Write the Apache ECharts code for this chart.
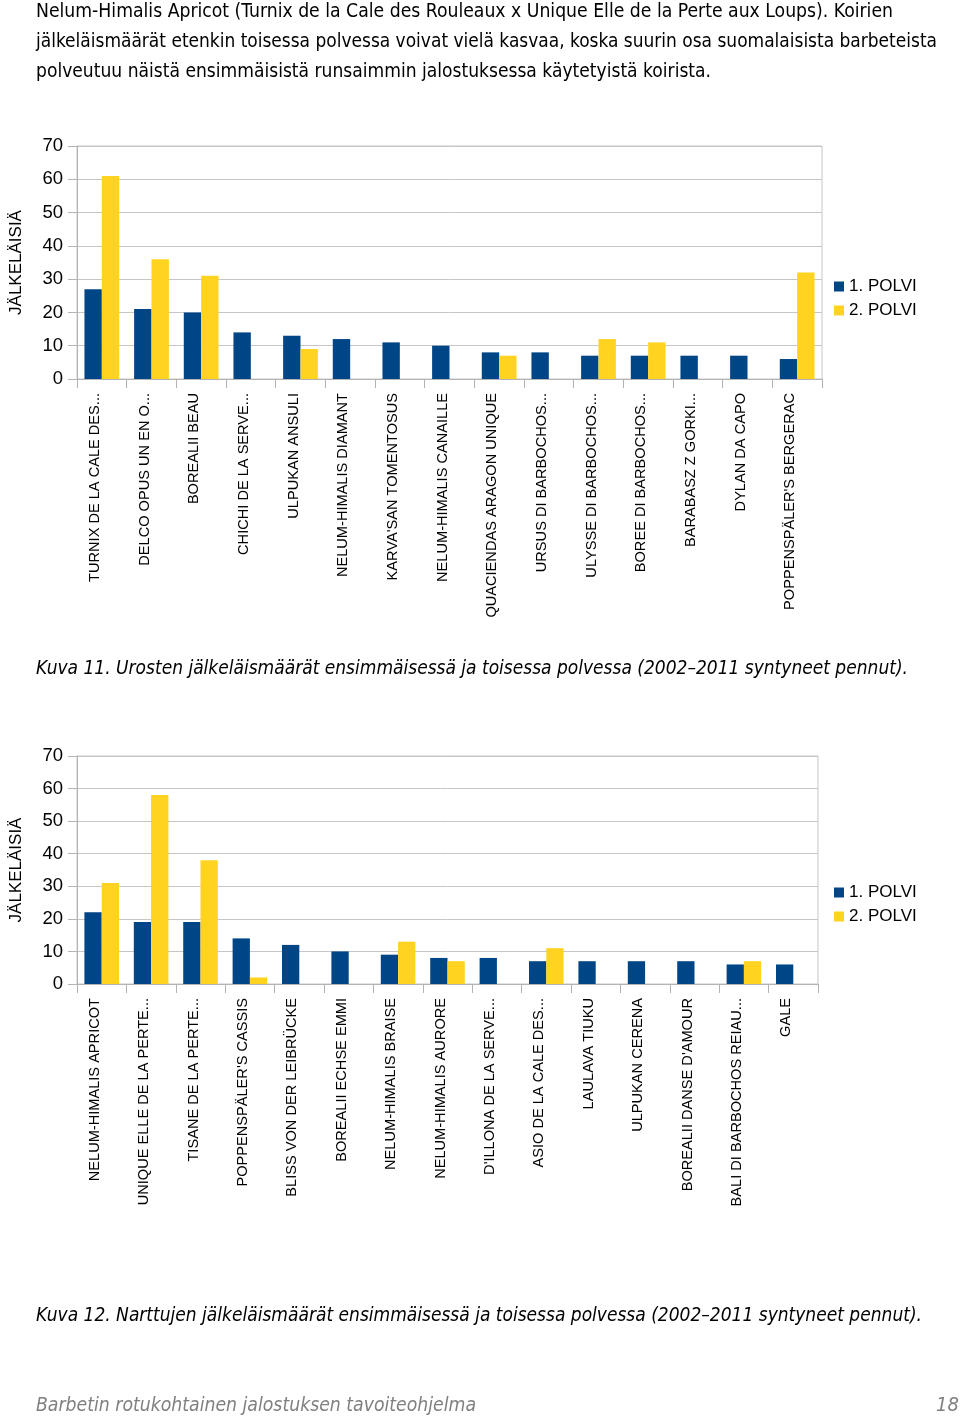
<!DOCTYPE html>
<html>
<head>
<meta charset="utf-8">
<script src="https://cdn.jsdelivr.net/npm/echarts@6.0.0/dist/echarts.min.js"></script>
<style>
  html, body { margin: 0; padding: 0; background: #fff; }
  #page { position: relative; width: 960px; height: 1416px; overflow: hidden; }
  #chart { position: absolute; left: 0; top: 0; width: 960px; height: 1416px; }
  .line { position: absolute; left: 36px; height: 30px; line-height: 30px; white-space: nowrap;
          font-family: "Liberation Sans Narrow", "DejaVu Sans Condensed", "Open Sans", sans-serif;
          font-size: 20px; color: #000; transform-origin: 0 50%; }
  .it { font-style: italic; }
  .foot { color: #808080; }
</style>
</head>
<body>
<div id="page">
  <div id="chart"></div>
  <div class="line fit" data-w="857" style="top:-5px">Nelum-Himalis Apricot (Turnix de la Cale des Rouleaux x Unique Elle de la Perte aux Loups). Koirien</div>
  <div class="line fit" data-w="901" style="top:25px">jälkeläismäärät etenkin toisessa polvessa voivat vielä kasvaa, koska suurin osa suomalaisista barbeteista</div>
  <div class="line fit" data-w="675" style="top:55px">polveutuu näistä ensimmäisistä runsaimmin jalostuksessa käytetyistä koirista.</div>
  <div class="line fit it" data-w="872" style="top:652px">Kuva 11. Urosten jälkeläismäärät ensimmäisessä ja toisessa polvessa (2002–2011 syntyneet pennut).</div>
  <div class="line fit it" data-w="886" style="top:1299px">Kuva 12. Narttujen jälkeläismäärät ensimmäisessä ja toisessa polvessa (2002–2011 syntyneet pennut).</div>
  <div class="line fit it foot" data-w="440" style="top:1389px">Barbetin rotukohtainen jalostuksen tavoiteohjelma</div>
  <div class="line it foot" style="top:1389px;left:936px">18</div>
</div>
<script>
// ---------- DATA ----------
const maleCategories = [
  "TURNIX DE LA CALE DES...", "DELCO OPUS UN EN O...", "BOREALII BEAU", "CHICHI DE LA SERVE...",
  "ULPUKAN ANSULI", "NELUM-HIMALIS DIAMANT", "KARVA'SAN TOMENTOSUS", "NELUM-HIMALIS CANAILLE",
  "QUACIENDAS ARAGON UNIQUE", "URSUS DI BARBOCHOS...", "ULYSSE DI BARBOCHOS...", "BOREE DI BARBOCHOS...",
  "BARABASZ Z GORKI...", "DYLAN DA CAPO", "POPPENSPÄLER'S BERGERAC"
];
const maleGen1 = [27, 21, 20, 14, 13, 12, 11, 10, 8, 8, 7, 7, 7, 7, 6];
const maleGen2 = [61, 36, 31, null, 9, null, null, null, 7, null, 12, 11, null, null, 32];

const femaleCategories = [
  "NELUM-HIMALIS APRICOT", "UNIQUE ELLE DE LA PERTE...", "TISANE DE LA PERTE...", "POPPENSPÄLER'S CASSIS",
  "BLISS VON DER LEIBRÜCKE", "BOREALII ECHSE EMMI", "NELUM-HIMALIS BRAISE", "NELUM-HIMALIS AURORE",
  "D'ILLONA DE LA SERVE...", "ASIO DE LA CALE DES...", "LAULAVA TIUKU", "ULPUKAN CERENA",
  "BOREALII DANSE D'AMOUR", "BALI DI BARBOCHOS REIAU...", "GALE"
];
const femaleGen1 = [22, 19, 19, 14, 12, 10, 9, 8, 8, 7, 7, 7, 7, 6, 6];
const femaleGen2 = [31, 58, 38, 2, null, null, 13, 7, null, 11, null, null, null, 7, null];

const seriesNames = ["1. POLVI", "2. POLVI"];
const yAxisName = "JÄLKELÄISIÄ";
const yMin = 0, yMax = 70, yStep = 10;

// ---------- STYLE ----------
const BLUE = "#004586", YELLOW = "#ffd320", GRID = "#c6c6c6", AXIS = "#b3b3b3";
const FONT = "Liberation Sans, Arial, sans-serif";

function xAxisCfg(idx, cats) {
  return {
    type: "category", gridIndex: idx, data: cats,
    axisLine: { lineStyle: { color: AXIS } },
    axisTick: { show: true, length: 9, lineStyle: { color: AXIS } },
    axisLabel: { interval: 0, rotate: 90, margin: 14, fontSize: 14.6, fontFamily: FONT, color: "#000",
                 verticalAlign: "bottom", lineHeight: 14 },
    splitLine: { show: false }
  };
}
function yAxisCfg(idx, gap) {
  return {
    type: "value", gridIndex: idx, min: yMin, max: yMax, interval: yStep,
    name: yAxisName, nameLocation: "middle", nameRotate: 90, nameGap: gap,
    nameTextStyle: { fontSize: 17, fontFamily: FONT, color: "#000" },
    axisLine: { show: true, lineStyle: { color: AXIS } },
    axisTick: { show: true, length: 9, lineStyle: { color: AXIS } },
    axisLabel: { margin: 14, fontSize: 18.5, fontFamily: FONT, color: "#000" },
    splitLine: { show: true, lineStyle: { color: GRID } }
  };
}
function barSeries(name, idx, data, color) {
  return {
    type: "bar", name: name, xAxisIndex: idx, yAxisIndex: idx, data: data,
    itemStyle: { color: color }, barGap: "0%", barCategoryGap: "30%"
  };
}
function legendCfg(top) {
  return {
    orient: "vertical", left: 829, top: top, itemWidth: 10, itemHeight: 10, itemGap: 7,
    icon: "rect", data: seriesNames,
    textStyle: { fontSize: 17, lineHeight: 17, fontFamily: FONT, color: "#000" }
  };
}

const chart = echarts.init(document.getElementById("chart"), null, { renderer: "canvas" });
chart.setOption({
  animation: false,
  grid: [
    { left: 77, top: 146, width: 745, height: 233, show: true, borderColor: GRID, borderWidth: 1, containLabel: false },
    { left: 72, top: 756, width: 746, height: 228, show: true, borderColor: GRID, borderWidth: 1, containLabel: false }
  ],
  legend: [ legendCfg(273), legendCfg(879) ],
  xAxis: [ xAxisCfg(0, maleCategories), xAxisCfg(1, femaleCategories) ],
  yAxis: [ yAxisCfg(0, 52), yAxisCfg(1, 52) ],
  series: [
    barSeries(seriesNames[0], 0, maleGen1, BLUE),
    barSeries(seriesNames[1], 0, maleGen2, YELLOW),
    barSeries(seriesNames[0], 1, femaleGen1, BLUE),
    barSeries(seriesNames[1], 1, femaleGen2, YELLOW)
  ]
});

// fit text lines to the widths seen in the reference
document.querySelectorAll(".fit").forEach(function (el) {
  const target = parseFloat(el.getAttribute("data-w"));
  const w = el.getBoundingClientRect().width;
  if (w > 0) el.style.transform = "scaleX(" + (target / w) + ")";
});
</script>
</body>
</html>
